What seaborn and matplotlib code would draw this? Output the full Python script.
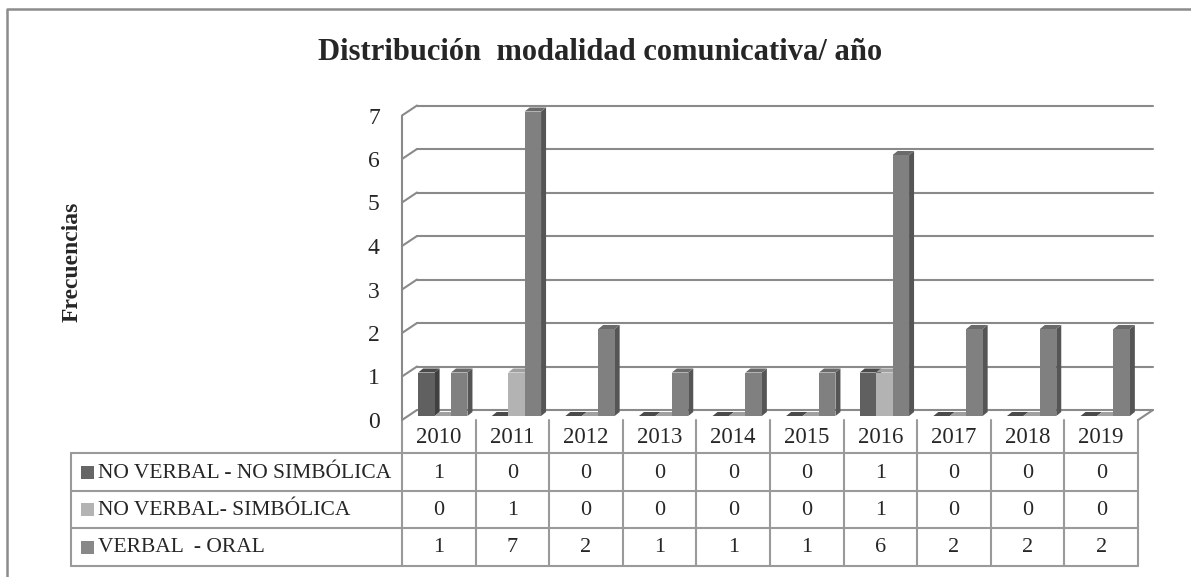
import numpy as np
import pandas as pd
import matplotlib
matplotlib.use("Agg")
import matplotlib.pyplot as plt
import seaborn as sns
from matplotlib.patches import Polygon, Rectangle
from matplotlib.transforms import ScaledTranslation, IdentityTransform

# data
years = [2010, 2011, 2012, 2013, 2014, 2015, 2016, 2017, 2018, 2019]
no_verbal_no_simbolica = [1, 0, 0, 0, 0, 0, 1, 0, 0, 0]
no_verbal_simbolica = [0, 1, 0, 0, 0, 0, 1, 0, 0, 0]
verbal_oral = [1, 7, 2, 1, 1, 1, 6, 2, 2, 2]
series_names = ["NO VERBAL - NO SIMBÓLICA", "NO VERBAL- SIMBÓLICA", "VERBAL  - ORAL"]

front_cols = ["#606060", "#b3b3b3", "#808080"]
side_cols = ["#404040", "#8e8e8e", "#555555"]
top_cols = ["#4a4a4a", "#a0a0a0", "#6a6a6a"]
key_cols = ["#666666", "#b3b3b3", "#888888"]

sns.set_style("white")
plt.rcParams["font.family"] = ["Liberation Serif", "DejaVu Serif"]

W, H = 1191, 577
fig = plt.figure(figsize=(W / 100, H / 100), dpi=100)

# overlay in pixel coords for frame and data table
ov = fig.add_axes([0, 0, 1, 1], zorder=0)
ov.set_xlim(0, W)
ov.set_ylim(H, 0)
ov.axis("off")

# front plane of the 3d plot
x_left, x_right = 402, 1138
y_zero, unit = 420, 43.5
ax = fig.add_axes([x_left / W, (H - y_zero) / H, (x_right - x_left) / W, 7 * unit / H], zorder=1)
ax.patch.set_alpha(0)

df = pd.DataFrame({
    "year": [str(y) for y in years] * 3,
    "value": no_verbal_no_simbolica + no_verbal_simbolica + verbal_oral,
    "serie": [s for s in series_names for _ in years],
})
sns.barplot(data=df, x="year", y="value", hue="serie", hue_order=series_names,
            palette=front_cols, saturation=1, width=0.67, gap=0, dodge=True,
            legend=False, edgecolor="none", linewidth=0, ax=ax)
ax.set_xlim(-0.5, len(years) - 0.5)
ax.set_ylim(0, 7)
for s in ax.spines.values():
    s.set_visible(False)
ax.set_xticks([])
ax.set_yticks(range(8))
ax.set_yticklabels([str(v) for v in range(8)], fontsize=17)
ax.tick_params(axis="y", length=0, pad=16)
ax.set_xlabel("")
ax.set_ylabel("")

grid_col = "#8a8a8a"
back = ax.transData + ScaledTranslation(15 / 100, 10 / 100, fig.dpi_scale_trans)
x0, x1 = -0.5, len(years) - 0.5
for v in range(8):
    ax.plot([x0, x1], [v, v], color=grid_col, lw=1.5, transform=back, zorder=0.5, clip_on=False)
    # left wall diagonals
    p_front = ax.transData.transform((x0, v))
    ax.plot([p_front[0], p_front[0] + 15], [p_front[1], p_front[1] + 10], color=grid_col,
            lw=1.5, transform=IdentityTransform(), zorder=0.5, clip_on=False)
ax.plot([x0, x0], [0, 7], color=grid_col, lw=1.5, zorder=0.5, clip_on=False)
pr = ax.transData.transform((x1, 0))
ax.plot([pr[0], pr[0] + 15], [pr[1], pr[1] + 10], color=grid_col, lw=1.5,
        transform=IdentityTransform(), zorder=0.5, clip_on=False)

# fake 3d faces on the bars
bdx, bdy = 4, 4
ddx, ddy = 5, 4
n = len(years)
series_of = {id(p): k // n for k, p in enumerate(ax.patches)}
bars = sorted(ax.patches, key=lambda p: p.get_x())
off = ScaledTranslation(bdx / 100, bdy / 100, fig.dpi_scale_trans)
for z, p in enumerate(bars):
    si = series_of[id(p)]
    px, pw, ph = p.get_x(), p.get_width(), p.get_height()
    tl = ax.transData.transform((px, ph)) + [bdx, bdy]
    tr = ax.transData.transform((px + pw, ph)) + [bdx, bdy]
    br = ax.transData.transform((px + pw, 0)) + [bdx, bdy]
    d = np.array([ddx, ddy])
    side = Polygon([br, tr, tr + d, br + d], closed=True, facecolor=side_cols[si],
                   edgecolor="none", transform=IdentityTransform(), clip_on=False, zorder=2 + z * 0.01)
    top = Polygon([tl, tr, tr + d, tl + d], closed=True, facecolor=top_cols[si],
                  edgecolor="none", transform=IdentityTransform(), clip_on=False, zorder=2 + z * 0.01)
    ax.add_patch(side)
    ax.add_patch(top)
    p.set_transform(ax.transData + off)
    p.set_zorder(2.005 + z * 0.01)
    p.set_clip_on(False)

# frame
fc = "#8c8c8c"
ov.plot([7, 7, W], [H, 8.5, 8.5], color=fc, lw=1.8)

# data table
tcol = "#9a9a9a"
col_w = (x_right - x_left) / n
row_y = [420, 453, 491, 528, 566]
leg_x = 71
for yy in row_y[1:]:
    ov.plot([leg_x, x_right], [yy, yy], color=tcol, lw=1.5)
ov.plot([leg_x, leg_x], [row_y[1], row_y[-1]], color=tcol, lw=1.5)
for i in range(n + 1):
    xx = x_left + i * col_w
    ov.plot([xx, xx], [row_y[0], row_y[-1]], color=tcol, lw=1.5)
for i, y in enumerate(years):
    ov.text(x_left + (i + 0.5) * col_w, (row_y[0] + row_y[1]) / 2 + 1, str(y),
            ha="center", va="center", fontsize=16.5)
rows = [no_verbal_no_simbolica, no_verbal_simbolica, verbal_oral]
for r, (name, vals) in enumerate(zip(series_names, rows)):
    yc = (row_y[r + 1] + row_y[r + 2]) / 2
    ov.add_patch(Rectangle((81, yc - 6.5), 13, 13, facecolor=key_cols[r], edgecolor="none"))
    ov.text(98, yc + 1, name, ha="left", va="center", fontsize=15.5)
    for i, v in enumerate(vals):
        ov.text(x_left + (i + 0.5) * col_w, yc + 1, str(v), ha="center", va="center", fontsize=16)

fig.text(600 / W, 1 - 53 / H, "Distribución  modalidad comunicativa/ año",
         ha="center", va="center", fontsize=22, fontweight="bold")
fig.text(72 / W, 1 - 262 / H, "Frecuencias", ha="center", va="center",
         rotation=90, fontsize=17, fontweight="bold")

fig.savefig("out.png", dpi=100)
